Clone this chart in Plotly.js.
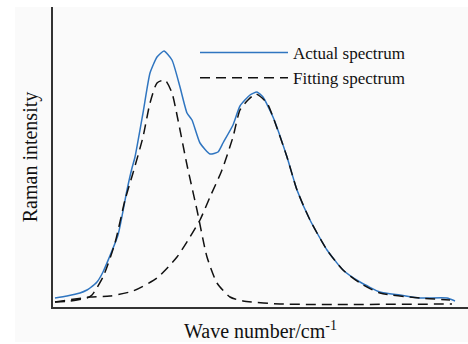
<!DOCTYPE html>
<html>
<head>
<meta charset="utf-8">
<script src="https://cdn.plot.ly/plotly-3.0.1.min.js"></script>
<style>html,body{margin:0;padding:0;background:#fff;}#chart{width:468px;height:344px;}</style>
</head>
<body>
<div id="chart"></div>
<script>
// Wave number (arbitrary units) and intensities
const actualX = [2,14,27,34,37,44,50,65,74,79,82,90,97,104,111,119,127,134,139,147,157,165,170,180,187,197,204,210,220,234,244,257,274,290,307,327,347,367,394,402];
const actualY = [9,11,14,17,19,25,35,72,117,139,150,194,234,250,256,247,220,194,187,164,153,155,164,182,201,212,215,210,190,150,117,87,57,37,25,15,12,9,9,6];

const fit1X = [2,17,34,39,50,62,72,80,90,97,104,112,119,125,134,144,154,164,177,190,227,399];
const fit1Y = [5,6,9,12,30,64,107,134,170,204,224,227,214,187,142,97,50,24,10,6,3,3];

const fit2X = [2,37,57,80,104,124,137,147,157,169,180,187,195,203,214,220,234,244,257,274,290,307,327,367,397];
const fit2Y = [5,10,11,16,29,50,70,87,110,137,170,197,207,213,204,190,150,117,87,57,37,24,14,9,7];

const seriesNames = ['Actual spectrum', 'Fitting spectrum'];
const xTitle = 'Wave number/cm<sup>-1</sup>';
const yTitle = 'Raman intensity';

const serif = 'Liberation Serif, Times New Roman, serif';
const dashStyle = '10px,6px';

const traces = [
  {x: actualX, y: actualY, mode: 'lines', name: seriesNames[0],
   line: {color: '#2f75c0', width: 1.5, shape: 'spline', smoothing: 0.5}},
  {x: fit1X, y: fit1Y, mode: 'lines', name: seriesNames[1], legendgroup: 'fit',
   line: {color: '#111', width: 1.5, dash: dashStyle, shape: 'spline', smoothing: 0.6}},
  {x: fit2X, y: fit2Y, mode: 'lines', name: seriesNames[1], legendgroup: 'fit', showlegend: false,
   line: {color: '#111', width: 1.5, dash: dashStyle, shape: 'spline', smoothing: 0.6}}
];

const layout = {
  width: 468, height: 344,
  margin: {l: 53, r: 0, t: 7, b: 37, pad: 0},
  paper_bgcolor: '#ffffff',
  plot_bgcolor: 'rgba(0,0,0,0)',
  font: {family: serif, color: '#111', size: 16},
  showlegend: true,
  legend: {
    x: (195 - 53) / 415, y: (307 - 35) / 300, xanchor: 'left', yanchor: 'top',
    bgcolor: 'rgba(0,0,0,0)', borderwidth: 0,
    font: {family: serif, size: 17, color: '#111'},
    itemwidth: 88, tracegroupgap: 0
  },
  xaxis: {
    range: [0, 415], showline: true, linewidth: 2, linecolor: '#333',
    showgrid: false, zeroline: false, ticks: '', showticklabels: false,
    title: {text: xTitle, font: {family: serif, size: 20, color: '#111'}, standoff: 16}
  },
  yaxis: {
    range: [0, 300], showline: true, linewidth: 2, linecolor: '#333',
    showgrid: false, zeroline: false, ticks: '', showticklabels: false,
    title: {text: yTitle, font: {family: serif, size: 20, color: '#111'}, standoff: 8}
  },
  shapes: [{
    type: 'rect', xref: 'paper', yref: 'paper', layer: 'below',
    x0: (15 - 53) / 415, x1: 1, y0: (307 - 342) / 300, y1: 1,
    fillcolor: '#fafafa', line: {width: 0}
  }]
};

Plotly.newPlot('chart', traces, layout, {displayModeBar: false, staticPlot: true});
</script>
</body>
</html>
